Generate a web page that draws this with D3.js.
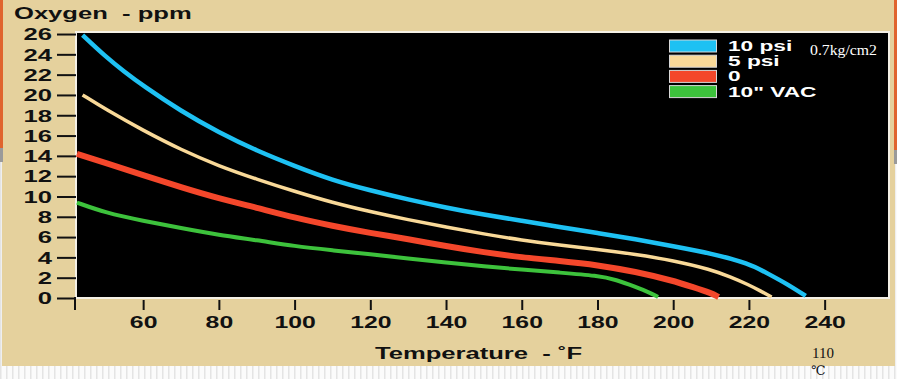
<!DOCTYPE html>
<html><head><meta charset="utf-8">
<script src="https://cdn.jsdelivr.net/npm/d3@7"></script>
<style>
html,body{margin:0;padding:0;background:#fff;}
svg{display:block;}
text{white-space:pre;}
</style></head>
<body>
<svg id="chart" width="897" height="379"></svg>
<script>
// ---- data ----
const seriesNames = ["10 psi", "5 psi", "0", "10\" VAC"];
const seriesColors = ["#1ec1f3", "#f9d998", "#f4472b", "#3dc23c"];
const seriesWidths = [4.5, 3.5, 6, 4];

const temps10psi = [44, 50, 55, 60, 70, 80, 90, 100, 110, 120, 130, 140, 150, 160, 170, 180, 190, 200, 210, 220, 225, 230, 235];
const oxy10psi   = [25.9, 23.8, 22.3, 20.9, 18.4, 16.3, 14.5, 13.0, 11.6, 10.6, 9.7, 8.9, 8.2, 7.6, 7.0, 6.4, 5.8, 5.1, 4.4, 3.4, 2.4, 1.4, 0.2];

const temps5psi = [44, 50, 60, 70, 80, 90, 100, 110, 120, 130, 140, 150, 160, 170, 180, 190, 200, 210, 215, 220, 223, 226];
const oxy5psi   = [20.0, 18.6, 16.5, 14.6, 13.0, 11.7, 10.5, 9.4, 8.5, 7.7, 7.0, 6.3, 5.7, 5.2, 4.8, 4.3, 3.7, 2.8, 2.1, 1.3, 0.7, 0.1];

const temps0 = [42.5, 50, 60, 70, 80, 90, 100, 110, 120, 130, 140, 150, 160, 170, 180, 190, 200, 205, 210, 212];
const oxy0   = [14.2, 13.3, 12.1, 10.9, 9.8, 8.9, 7.9, 7.1, 6.4, 5.8, 5.1, 4.5, 4.0, 3.65, 3.25, 2.6, 1.7, 1.1, 0.5, 0.1];

const tempsVac = [42.5, 50, 60, 70, 80, 90, 100, 110, 120, 130, 140, 150, 160, 170, 180, 185, 190, 194, 196];
const oxyVac   = [9.4, 8.4, 7.6, 6.9, 6.2, 5.7, 5.1, 4.7, 4.3, 3.9, 3.5, 3.1, 2.8, 2.5, 2.2, 1.8, 1.1, 0.5, 0.1];

const yTicks = [0, 2, 4, 6, 8, 10, 12, 14, 16, 18, 20, 22, 24, 26];
const xTicks = [60, 80, 100, 120, 140, 160, 180, 200, 220, 240];

const yTitle = "Oxygen  - ppm";
const xTitle = "Temperature  - \u02DAF";
const note = "0.7kg/cm2";
const noteC1 = "110";
const noteC2 = "\u2103";

// ---- layout ----
const svg = d3.select("#chart");
const W = 897, H = 379;
const plot = {left: 76, top: 32, right: 889, bottom: 298};
const SX = 1.6;
const bold = "'Liberation Sans', Arial, sans-serif";
const beige = "#e5d19d";

// bottom striped strip
const defs = svg.append("defs");
const pat = defs.append("pattern").attr("id", "stripes").attr("patternUnits", "userSpaceOnUse")
  .attr("width", 6).attr("height", 10);
pat.append("rect").attr("width", 6).attr("height", 10).attr("fill", "#fbfbfb");
pat.append("rect").attr("x", 0).attr("width", 1.5).attr("height", 10).attr("fill", "#e4e4e4");
svg.append("rect").attr("x", 0).attr("y", 0).attr("width", W).attr("height", H).attr("fill", "url(#stripes)");

// beige panel
svg.append("rect").attr("x", 2).attr("y", 0).attr("width", W - 4).attr("height", 366).attr("fill", beige);
// side edges
svg.append("rect").attr("x", 0).attr("y", 0).attr("width", 3).attr("height", 148).attr("fill", "#e0642e");
svg.append("rect").attr("x", 0).attr("y", 148).attr("width", 3).attr("height", 14).attr("fill", "#9a9a9a");
svg.append("rect").attr("x", 894).attr("y", 0).attr("width", 3).attr("height", 150).attr("fill", "#e0642e");
svg.append("rect").attr("x", 894).attr("y", 150).attr("width", 3).attr("height", 14).attr("fill", "#9a9a9a");

// plot area
svg.append("rect").attr("x", plot.left).attr("y", plot.top)
  .attr("width", plot.right - plot.left).attr("height", plot.bottom - plot.top)
  .attr("fill", "#000").attr("stroke", "#f4f0e6").attr("stroke-width", 2);

const x = d3.scaleLinear().domain([42, 257]).range([75, 889]);
const y = d3.scaleLinear().domain([0, 26.2]).range([298, 32]);

// y axis
const yAxis = svg.append("g").attr("transform", `translate(${plot.left},0)`)
  .call(d3.axisLeft(y).tickValues(yTicks).tickSize(19).tickPadding(0).tickFormat(d3.format("d")));
yAxis.select(".domain").remove();
yAxis.selectAll(".tick line").attr("stroke", "#111").attr("stroke-width", 2);
yAxis.selectAll(".tick text")
  .attr("x", null).attr("dy", null)
  .attr("transform", `translate(-24,5.8) scale(${SX},1)`)
  .attr("fill", "#111").attr("font-family", bold).attr("font-weight", "bold").attr("font-size", 16)
  .attr("text-anchor", "end");

// x axis
const xAxis = svg.append("g").attr("transform", `translate(0,300)`)
  .call(d3.axisBottom(x).tickValues(xTicks).tickSize(10).tickPadding(0).tickFormat(d3.format("d")));
xAxis.select(".domain").remove();
xAxis.selectAll(".tick line").attr("stroke", "#111").attr("stroke-width", 2);
xAxis.selectAll(".tick text")
  .attr("y", null).attr("dy", null)
  .attr("transform", `translate(0,27.5) scale(1.55,1)`)
  .attr("fill", "#111").attr("font-family", bold).attr("font-weight", "bold").attr("font-size", 16)
  .attr("text-anchor", "middle");
// origin corner tick
svg.append("line").attr("x1", x(42)).attr("x2", x(42)).attr("y1", y(0) - 1).attr("y2", 310)
  .attr("stroke", "#111").attr("stroke-width", 2);

// titles
svg.append("text").attr("transform", `translate(14,18.5) scale(${SX},1)`)
  .attr("font-family", bold).attr("font-weight", "bold").attr("font-size", 16).attr("fill", "#111")
  .text(yTitle);
svg.append("text").attr("transform", `translate(375,358.5) scale(${SX},1)`)
  .attr("font-family", bold).attr("font-weight", "bold").attr("font-size", 16).attr("fill", "#111")
  .text(xTitle);

// curves
const series = [
  {t: temps10psi, v: oxy10psi},
  {t: temps5psi, v: oxy5psi},
  {t: temps0, v: oxy0},
  {t: tempsVac, v: oxyVac}
];
const line = d3.line().x(d => x(d[0])).y(d => y(d[1])).curve(d3.curveBasis);
series.forEach((s, i) => {
  svg.append("path")
    .attr("d", line(s.t.map((t, j) => [t, s.v[j]])))
    .attr("fill", "none").attr("stroke", seriesColors[i]).attr("stroke-width", seriesWidths[i])
    .attr("stroke-linecap", "butt").attr("stroke-linejoin", "round");
});

// legend
const lg = svg.append("g");
seriesNames.forEach((n, i) => {
  const yy = 40 + i * 15.2;
  lg.append("rect").attr("x", 669.5).attr("y", yy).attr("width", 47).attr("height", 12)
    .attr("fill", seriesColors[i]).attr("stroke", "#d8d8d8").attr("stroke-width", 1);
  lg.append("text").attr("transform", `translate(728,${yy + 11}) scale(1.62,1)`)
    .attr("font-family", bold).attr("font-weight", "bold").attr("font-size", 14).attr("fill", "#fff")
    .text(n);
});

// annotations
svg.append("text").attr("x", 810).attr("y", 55).attr("font-family", "'Liberation Serif', 'DejaVu Serif', serif")
  .attr("font-size", 14).attr("fill", "#fff").attr("textLength", 67).attr("lengthAdjust", "spacingAndGlyphs")
  .text(note);
svg.append("text").attr("x", 812).attr("y", 358).attr("font-family", "'Liberation Serif', 'DejaVu Serif', serif")
  .attr("font-size", 15).attr("fill", "#111").text(noteC1);
svg.append("text").attr("x", 811).attr("y", 375).attr("font-family", "'Liberation Serif', 'DejaVu Serif', serif")
  .attr("font-size", 13).attr("fill", "#111").text(noteC2);
</script>
</body></html>
